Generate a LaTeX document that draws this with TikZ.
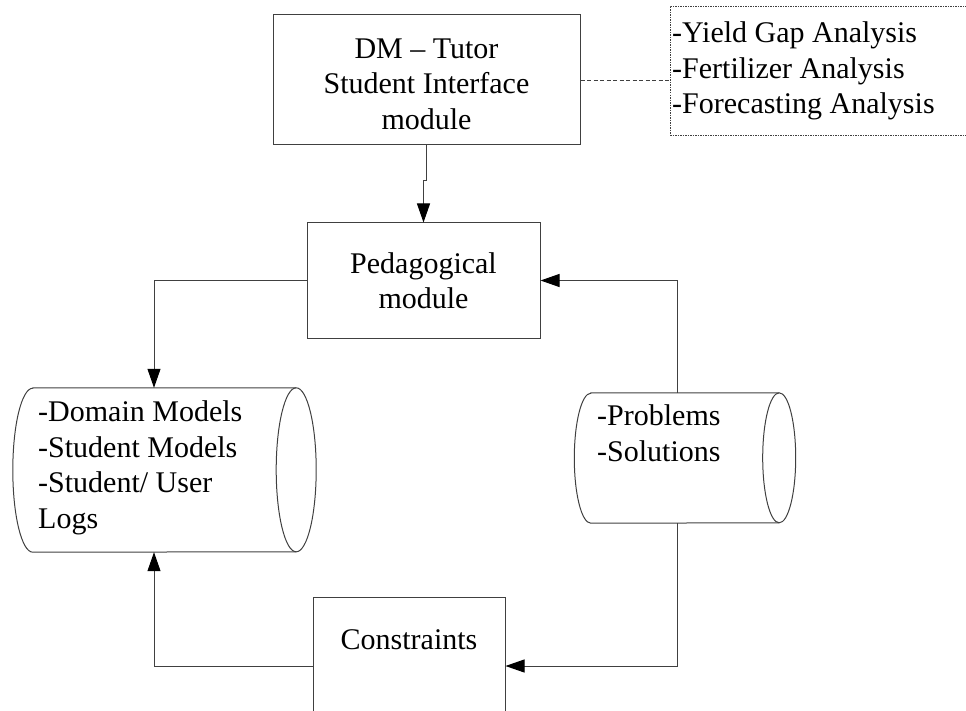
\documentclass[tikz,border=0pt]{standalone}
\usepackage{fontspec}
\setmainfont{Liberation Serif}
\usetikzlibrary{arrows.meta}
\begin{document}
\begin{tikzpicture}[x=1pt,y=-1pt,
  every node/.style={font=\fontsize{30}{35.5}\selectfont},
  boxnode/.style={draw=black!75,line width=1pt,inner sep=0pt,align=center},
  dotbox/.style={draw=black!75,line width=0.9pt,inner sep=0pt,dash pattern=on 1.5pt off 1pt},
  txt/.style={inner sep=0pt,align=left},
  shapeline/.style={draw=black!75,line width=1pt},
  conn/.style={draw=black!75,line width=1pt,-{Triangle[length=19pt,width=13pt,color=black]}},
  dashconn/.style={draw=black!75,line width=0.9pt,dash pattern=on 4pt off 2.5pt}]
\useasboundingbox (0,0) rectangle (966,711);
\clip (0,0) rectangle (966,711);

% top module
\node[boxnode,minimum width=307pt,minimum height=130pt] (dm) at (426.5,80) {};
\node[txt,align=center] (dmtext) at (426.5,84) {DM – Tutor\\Student Interface\\module};

% analysis list
\node[dotbox,minimum width=320pt,minimum height=129pt] (ana) at (830,70.5) {};
\node[txt,anchor=west] (anatext) at (672,71) {-Yield Gap Analysis\\-Fertilizer Analysis\\-Forecasting Analysis};

% pedagogical
\node[boxnode,minimum width=233pt,minimum height=115pt] (ped) at (423.5,280.5) {Pedagogical\\module};

% left store
\node[inner sep=0pt,minimum width=263pt,minimum height=164pt] (lcyl) at (164.5,470) {};
\draw[shapeline] (lcyl.north west) -- (lcyl.north east)
  arc[start angle=90,end angle=-90,x radius=20pt,y radius=82pt]
  -- (lcyl.south west)
  arc[start angle=270,end angle=90,x radius=20pt,y radius=82pt] -- cycle;
\draw[shapeline] (lcyl.north east) arc[start angle=90,end angle=270,x radius=20pt,y radius=82pt];
\node[txt,anchor=west] (lcyltext) at (38,468) {-Domain Models\\-Student Models\\-Student/ User\\Logs};

% right store
\node[inner sep=0pt,minimum width=188pt,minimum height=130pt] (rcyl) at (685,458) {};
\draw[shapeline] (rcyl.north west) -- (rcyl.north east)
  arc[start angle=90,end angle=-90,x radius=16.5pt,y radius=65pt]
  -- (rcyl.south west)
  arc[start angle=270,end angle=90,x radius=16.5pt,y radius=65pt] -- cycle;
\draw[shapeline] (rcyl.north east) arc[start angle=90,end angle=270,x radius=16.5pt,y radius=65pt];
\node[txt,anchor=west] (rcyltext) at (597,433) {-Problems\\-Solutions};

% constraints
\node[boxnode,minimum width=192pt,minimum height=138pt] (cons) at (409,666) {};
\node[txt] (constext) at (409,640) {Constraints};

% connectors
\draw[dashconn] (dm.east) -- (dm.east -| ana.west);
\draw[conn] (dm.south) -- ++(0,35) -| (ped.north);
\draw[conn] (ped.west) -| ([xshift=-10.5pt]lcyl.north);
\draw[conn] ([xshift=-8pt]rcyl.north) |- (ped.east);
\draw[conn] ([xshift=-8pt]rcyl.south) |- (cons.east);
\draw[conn] (cons.west) -| ([xshift=-10.5pt]lcyl.south);
\end{tikzpicture}
\end{document}
